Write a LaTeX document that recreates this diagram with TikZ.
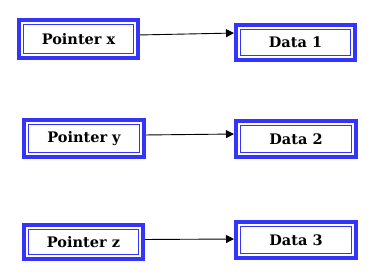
\documentclass[tikz,border=0pt]{standalone}
\usepackage{fontspec}
\setmainfont{DejaVu Serif}
\usetikzlibrary{arrows.meta}
\definecolor{bblue}{RGB}{52,52,250}
\tikzset{
  boxnode/.style={draw=bblue, line width=4pt, fill=white, inner sep=0pt, outer sep=0pt,
    font=\fontsize{14.5}{17}\selectfont\bfseries,
    path picture={\draw[bblue, line width=1pt]
      ([shift={(4.5pt,-4.5pt)}]path picture bounding box.north west) rectangle
      ([shift={(-4.5pt,4.5pt)}]path picture bounding box.south east);}},
  conn/.style={draw=black, line width=0.9pt, shorten <=2pt, shorten >=2pt,
    -{Triangle[length=8pt,width=8pt]}}
}
\begin{document}
\begin{tikzpicture}[x=1pt,y=-1pt]
\useasboundingbox (0,0) rectangle (383,272);
\node[boxnode, minimum width=119pt, minimum height=38pt] (px) at (78.5,39) {Pointer x};
\node[boxnode, minimum width=120pt, minimum height=37pt] (py) at (84,138.5) {Pointer y};
\node[boxnode, minimum width=119pt, minimum height=34pt] (pz) at (83.5,242) {Pointer z};
\node[boxnode, minimum width=119pt, minimum height=35pt] (d1) at (295.5,42.5) {Data 1};
\node[boxnode, minimum width=120pt, minimum height=36pt] (d2) at (296,139) {Data 2};
\node[boxnode, minimum width=120pt, minimum height=36pt] (d3) at (296,240) {Data 3};
\draw[conn] ([yshift=4pt]px.east) -- ([yshift=9.5pt]d1.west);
\draw[conn] ([yshift=3.5pt]py.east) -- ([yshift=5pt]d2.west);
\draw[conn] ([yshift=2.5pt]pz.east) -- ([yshift=1pt]d3.west);
\end{tikzpicture}
\end{document}
